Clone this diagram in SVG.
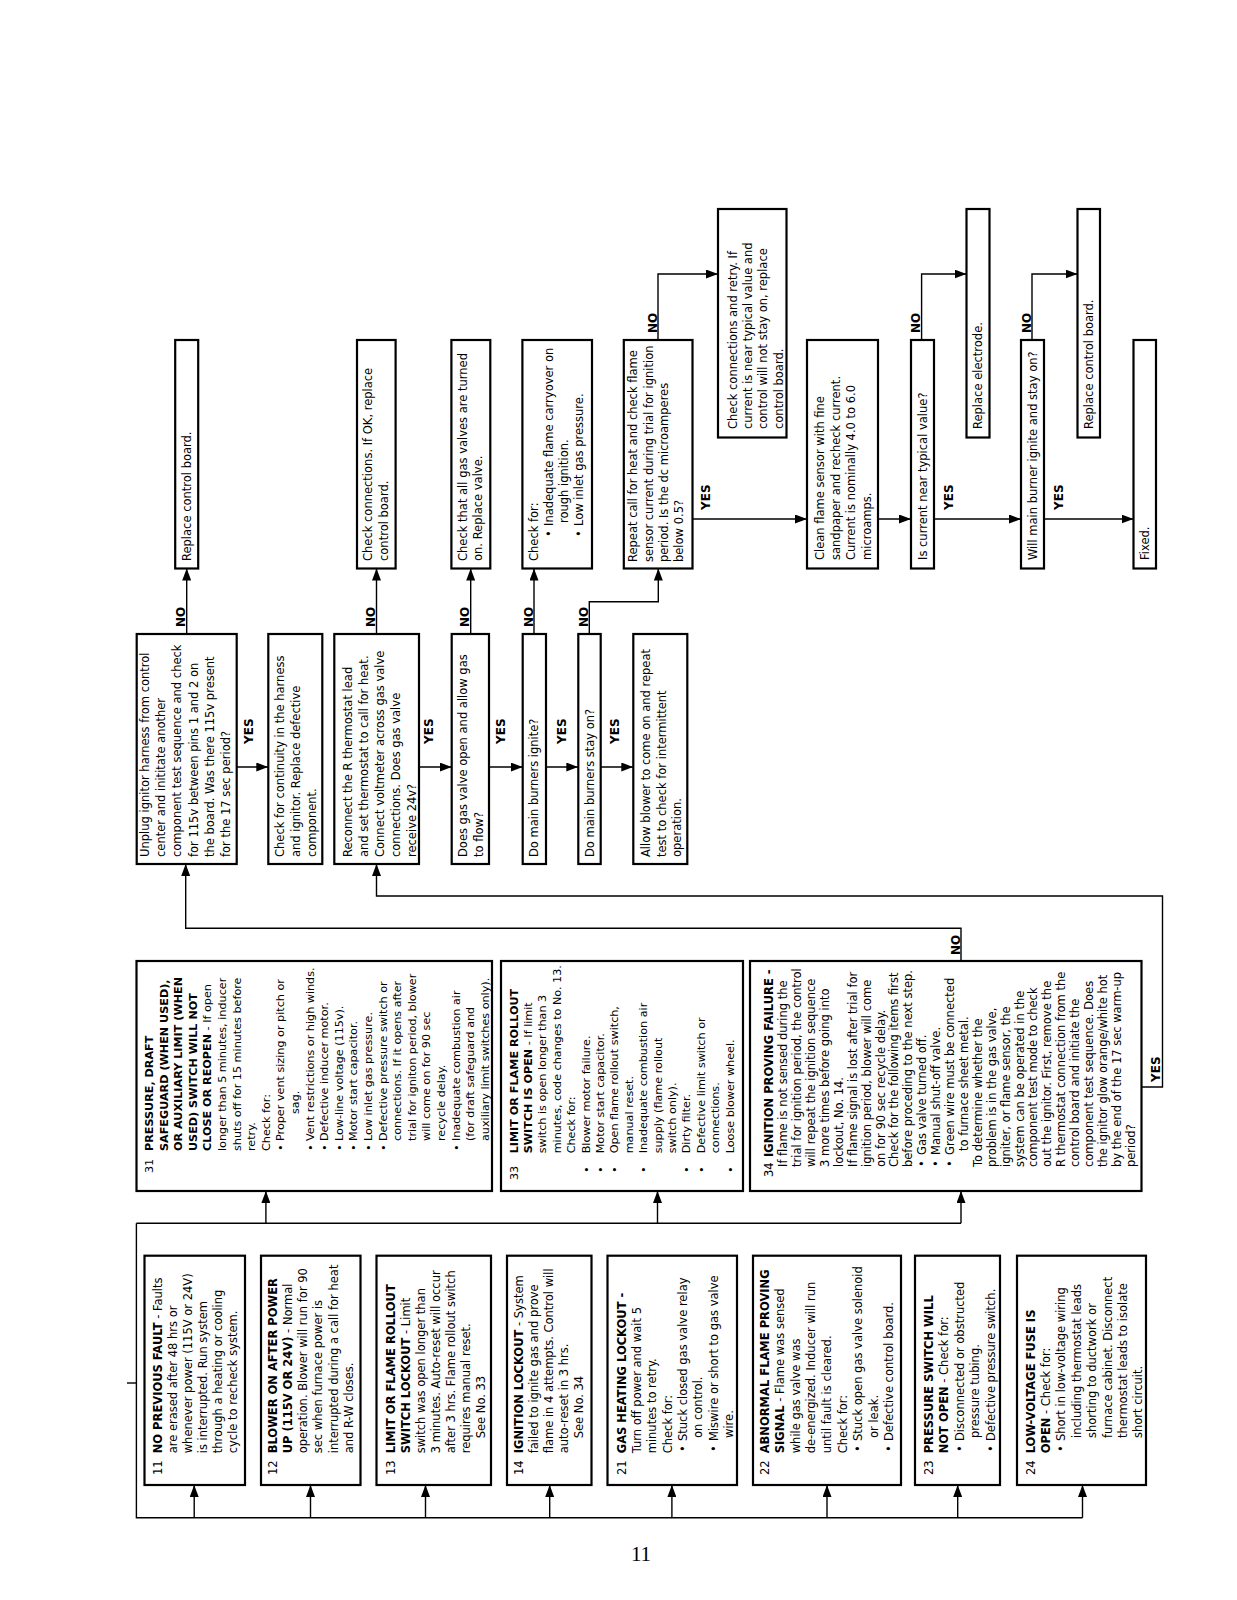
<svg xmlns="http://www.w3.org/2000/svg" width="1237" height="1600" viewBox="0 0 1237 1600">
<defs>
<style>
.bx{fill:#fff;stroke:#000;stroke-width:2.2}
.t{font-family:"DejaVu Sans","Liberation Sans",sans-serif;font-size:11.5px;fill:#000}
.s{font-size:11.2px}
.b{font-weight:bold}
.lbl{font-family:"DejaVu Sans","Liberation Sans",sans-serif;font-size:12px;font-weight:bold;fill:#000}
.c{fill:none;stroke:#000;stroke-width:1.4}
</style>
<marker id="ah" viewBox="0 0 12 9" refX="12" refY="4.5" markerWidth="12" markerHeight="9" markerUnits="userSpaceOnUse" orient="auto">
<path d="M0,0 L12,4.5 L0,9 z" fill="#000"/>
</marker>
</defs>
<rect width="1237" height="1600" fill="#fff"/>
<g id="page" transform="translate(0,1600) rotate(-90)">

<g id="connectors">
<path class="c" d="M376.7,136.4 L82.3,136.4 L82.3,1082.5"/>
<path class="c" d="M376.7,136.4 L376.7,961"/>
<path class="c" d="M217,127 L217,136.4"/>
<path class="c" marker-end="url(#ah)" d="M82.3,194.2 L115,194.2"/>
<path class="c" marker-end="url(#ah)" d="M82.3,310.5 L115,310.5"/>
<path class="c" marker-end="url(#ah)" d="M82.3,425.5 L115,425.5"/>
<path class="c" marker-end="url(#ah)" d="M82.3,549.7 L115,549.7"/>
<path class="c" marker-end="url(#ah)" d="M82.3,671.9 L115,671.9"/>
<path class="c" marker-end="url(#ah)" d="M82.3,827 L115,827"/>
<path class="c" marker-end="url(#ah)" d="M82.3,957.7 L115,957.7"/>
<path class="c" marker-end="url(#ah)" d="M82.3,1082.5 L115,1082.5"/>
<path class="c" marker-end="url(#ah)" d="M376.7,265.9 L409,265.9"/>
<path class="c" marker-end="url(#ah)" d="M376.7,657.5 L409,657.5"/>
<path class="c" marker-end="url(#ah)" d="M376.7,961 L409,961"/>
<path class="c" marker-end="url(#ah)" d="M639,961 L671.7,961 L671.7,185.7 L736,185.7"/>
<path class="c" marker-end="url(#ah)" d="M513,1141.5 L513,1162.5 L704,1162.5 L704,376.5 L736,376.5"/>
<path class="c" marker-end="url(#ah)" d="M833,236.7 L833,268.3"/>
<path class="c" marker-end="url(#ah)" d="M833,419 L833,451.7"/>
<path class="c" marker-end="url(#ah)" d="M833,489 L833,522.7"/>
<path class="c" marker-end="url(#ah)" d="M833,546 L833,578.3"/>
<path class="c" marker-end="url(#ah)" d="M833,600.7 L833,633.3"/>
<path class="c" marker-end="url(#ah)" d="M966,186.7 L1031.5,186.7"/>
<path class="c" marker-end="url(#ah)" d="M966,376.5 L1031.5,376.5"/>
<path class="c" marker-end="url(#ah)" d="M966,470.7 L1031.5,470.7"/>
<path class="c" marker-end="url(#ah)" d="M966,534 L1031.5,534"/>
<path class="c" marker-end="url(#ah)" d="M966,589.3 L998.3,589.3 L998.3,658.3 L1031.5,658.3"/>
<path class="c" marker-end="url(#ah)" d="M1081,692.5 L1081,807"/>
<path class="c" marker-end="url(#ah)" d="M1081,878 L1081,911"/>
<path class="c" marker-end="url(#ah)" d="M1081,934 L1081,1021"/>
<path class="c" marker-end="url(#ah)" d="M1081,1044 L1081,1133.5"/>
<path class="c" marker-end="url(#ah)" d="M1260,658 L1326,658 L1326,718"/>
<path class="c" marker-end="url(#ah)" d="M1260,921.6 L1326,921.6 L1326,966.5"/>
<path class="c" marker-end="url(#ah)" d="M1260,1032 L1326,1032 L1326,1077.5"/>
<text class="lbl" x="645" y="959.5">NO</text>
<text class="lbl" x="518" y="1160">YES</text>
<text class="lbl" x="856" y="253">YES</text>
<text class="lbl" x="856" y="433">YES</text>
<text class="lbl" x="856" y="505">YES</text>
<text class="lbl" x="856" y="566">YES</text>
<text class="lbl" x="856" y="619">YES</text>
<text class="lbl" x="973" y="185">NO</text>
<text class="lbl" x="973" y="375">NO</text>
<text class="lbl" x="973" y="468.5">NO</text>
<text class="lbl" x="973" y="532.5">NO</text>
<text class="lbl" x="973" y="588">NO</text>
<text class="lbl" x="1267" y="656.5">NO</text>
<text class="lbl" x="1267" y="920">NO</text>
<text class="lbl" x="1267" y="1031">NO</text>
<text class="lbl" x="1090" y="710">YES</text>
<text class="lbl" x="1090" y="953">YES</text>
<text class="lbl" x="1090" y="1063">YES</text>
</g>

<g id="n11">
<rect class="bx" x="115" y="144.5" width="229.3" height="100.5"/>
<text class="t" x="125" y="161.7">11</text>
<text class="t" x="146.7" y="161.7"><tspan class="b">NO PREVIOUS FAULT</tspan> - Faults</text>
<text class="t" x="146.7" y="176.7">are erased after 48 hrs or</text>
<text class="t" x="146.7" y="191.7">whenever power (115V or 24V)</text>
<text class="t" x="146.7" y="206.7">is interrupted. Run system</text>
<text class="t" x="146.7" y="221.7">through a heating or cooling</text>
<text class="t" x="146.7" y="236.7">cycle to recheck system.</text>
</g>

<g id="n12">
<rect class="bx" x="115" y="261" width="229.3" height="99.5"/>
<text class="t" x="125" y="276.7">12</text>
<text class="t b" x="146.7" y="276.7">BLOWER ON AFTER POWER</text>
<text class="t" x="146.7" y="291.9"><tspan class="b">UP (115V OR 24V)</tspan> - Normal</text>
<text class="t" x="146.7" y="307.1">operation.  Blower will run for 90</text>
<text class="t" x="146.7" y="322.3">sec when furnace power is</text>
<text class="t" x="146.7" y="337.5">interrupted during a call for heat</text>
<text class="t" x="146.7" y="352.7">and R-W closes.</text>
</g>

<g id="n13">
<rect class="bx" x="115" y="376.5" width="229.3" height="114.5"/>
<text class="t" x="125" y="395">13</text>
<text class="t b" x="146.7" y="395">LIMIT OR FLAME ROLLOUT</text>
<text class="t" x="146.7" y="410"><tspan class="b">SWITCH LOCKOUT</tspan> - Limit</text>
<text class="t" x="146.7" y="425">switch was open longer than</text>
<text class="t" x="146.7" y="440">3 minutes. Auto-reset will occur</text>
<text class="t" x="146.7" y="455">after 3 hrs. Flame rollout switch</text>
<text class="t" x="146.7" y="470">requires manual reset.</text>
<text class="t" x="161.7" y="485">See No. 33</text>
</g>

<g id="n14">
<rect class="bx" x="115" y="507" width="229.3" height="84.5"/>
<text class="t" x="125" y="523.3">14</text>
<text class="t" x="146.7" y="523.3"><tspan class="b">IGNITION LOCKOUT</tspan> - System</text>
<text class="t" x="146.7" y="538.3">failed to ignite gas and prove</text>
<text class="t" x="146.7" y="553.3">flame in 4 attempts. Control will</text>
<text class="t" x="146.7" y="568.3">auto-reset in 3 hrs.</text>
<text class="t" x="161.7" y="583.3">See No. 34</text>
</g>

<g id="n21">
<rect class="bx" x="115" y="607.5" width="229.3" height="129.5"/>
<text class="t" x="125" y="625.7">21</text>
<text class="t b" x="146.7" y="625.7">GAS HEATING LOCKOUT -</text>
<text class="t" x="146.7" y="641">Turn off power and wait 5</text>
<text class="t" x="146.7" y="656.3">minutes to retry.</text>
<text class="t" x="146.7" y="671.6">Check for:</text>
<text class="t" x="148" y="686.9">•</text>
<text class="t" x="159" y="686.9">Stuck closed gas valve relay</text>
<text class="t" x="162" y="702.2">on control.</text>
<text class="t" x="148" y="717.5">•</text>
<text class="t" x="159" y="717.5">Miswire or short to gas valve</text>
<text class="t" x="162" y="732.8">wire.</text>
</g>

<g id="n22">
<rect class="bx" x="115" y="753" width="229.3" height="148"/>
<text class="t" x="125" y="768.6">22</text>
<text class="t b" x="146.7" y="768.6">ABNORMAL FLAME PROVING</text>
<text class="t" x="146.7" y="784.2"><tspan class="b">SIGNAL</tspan> - Flame was sensed</text>
<text class="t" x="146.7" y="799.8">while gas valve was</text>
<text class="t" x="146.7" y="815.4">de-energized. Inducer will run</text>
<text class="t" x="146.7" y="831">until fault is cleared.</text>
<text class="t" x="146.7" y="846.6">Check for:</text>
<text class="t" x="148" y="862.2">•</text>
<text class="t" x="159" y="862.2">Stuck open gas valve solenoid</text>
<text class="t" x="162" y="877.8">or leak.</text>
<text class="t" x="148" y="893.4">•</text>
<text class="t" x="159" y="893.4">Defective control board.</text>
</g>

<g id="n23">
<rect class="bx" x="115" y="915" width="229.3" height="85"/>
<text class="t" x="125" y="932.9">23</text>
<text class="t b" x="146.7" y="932.9">PRESSURE SWITCH WILL</text>
<text class="t" x="146.7" y="948.3"><tspan class="b">NOT OPEN</tspan> - Check for:</text>
<text class="t" x="148" y="963.7">•</text>
<text class="t" x="159" y="963.7">Disconnected or obstructed</text>
<text class="t" x="162" y="979.1">pressure tubing.</text>
<text class="t" x="148" y="994.5">•</text>
<text class="t" x="159" y="994.5">Defective pressure switch.</text>
</g>

<g id="n24">
<rect class="bx" x="115" y="1017" width="229.3" height="129"/>
<text class="t" x="125" y="1034.6">24</text>
<text class="t b" x="146.7" y="1034.6">LOW-VOLTAGE FUSE IS</text>
<text class="t" x="146.7" y="1050"><tspan class="b">OPEN</tspan> - Check for:</text>
<text class="t" x="148" y="1065.4">•</text>
<text class="t" x="159" y="1065.4">Short in low-voltage wiring</text>
<text class="t" x="162" y="1080.8">including thermostat leads</text>
<text class="t" x="162" y="1096.2">shorting to ductwork or</text>
<text class="t" x="162" y="1111.6">furnace cabinet. Disconnect</text>
<text class="t" x="162" y="1127">thermostat leads to isolate</text>
<text class="t" x="162" y="1142.4">short circuit.</text>
</g>

<g id="n31">
<rect class="bx" x="409" y="136.5" width="230" height="355.5"/>
<text class="t s" x="427" y="153">31</text>
<text class="t s b" x="449" y="153">PRESSURE, DRAFT</text>
<text class="t s b" x="449" y="167.6">SAFEGUARD (WHEN USED),</text>
<text class="t s b" x="449" y="182.2">OR AUXILIARY LIMIT (WHEN</text>
<text class="t s b" x="449" y="196.8">USED) SWITCH WILL NOT</text>
<text class="t s" x="449" y="211.4"><tspan class="b">CLOSE OR REOPEN</tspan> - If open</text>
<text class="t s" x="449" y="226">longer than 5 minutes, inducer</text>
<text class="t s" x="449" y="240.6">shuts off for 15 minutes before</text>
<text class="t s" x="449" y="255.2">retry.</text>
<text class="t s" x="449" y="269.8">Check for:</text>
<text class="t s" x="449" y="284.4">•</text>
<text class="t s" x="459" y="284.4">Proper vent sizing or pitch or</text>
<text class="t s" x="486" y="299">sag.</text>
<text class="t s" x="449" y="313.6">•</text>
<text class="t s" x="459" y="313.6">Vent restrictions or high winds.</text>
<text class="t s" x="449" y="328.2">•</text>
<text class="t s" x="459" y="328.2">Defective inducer motor.</text>
<text class="t s" x="449" y="342.8">•</text>
<text class="t s" x="459" y="342.8">Low-line voltage (115v).</text>
<text class="t s" x="449" y="357.4">•</text>
<text class="t s" x="459" y="357.4">Motor start capacitor.</text>
<text class="t s" x="449" y="372">•</text>
<text class="t s" x="459" y="372">Low inlet gas pressure.</text>
<text class="t s" x="449" y="386.6">•</text>
<text class="t s" x="459" y="386.6">Defective pressure switch or</text>
<text class="t s" x="459" y="401.2">connections. If it opens after</text>
<text class="t s" x="459" y="415.8">trial for igniton period, blower</text>
<text class="t s" x="459" y="430.4">will come on for 90 sec</text>
<text class="t s" x="459" y="445">recycle delay.</text>
<text class="t s" x="449" y="459.6">•</text>
<text class="t s" x="459" y="459.6">Inadequate combustion air</text>
<text class="t s" x="459" y="474.2">(for draft safeguard and</text>
<text class="t s" x="459" y="488.8">auxiliary limit switches only).</text>
</g>

<g id="n33">
<rect class="bx" x="409" y="501" width="230" height="242"/>
<text class="t s" x="420" y="517.5">33</text>
<text class="t s b" x="446.7" y="517.5">LIMIT OR FLAME ROLLOUT</text>
<text class="t s" x="446.7" y="531.9"><tspan class="b">SWITCH IS OPEN</tspan> - If  limit</text>
<text class="t s" x="446.7" y="546.3">switch is open longer than 3</text>
<text class="t s" x="446.7" y="560.7">minutes, code changes to No. 13.</text>
<text class="t s" x="446.7" y="575.1">Check for:</text>
<text class="t s" x="427" y="589.5">•</text>
<text class="t s" x="446.7" y="589.5">Blower motor failure.</text>
<text class="t s" x="427" y="603.9">•</text>
<text class="t s" x="446.7" y="603.9">Motor start capacitor.</text>
<text class="t s" x="427" y="618.3">•</text>
<text class="t s" x="446.7" y="618.3">Open flame rollout switch,</text>
<text class="t s" x="446.7" y="632.7">manual reset.</text>
<text class="t s" x="427" y="647.1">•</text>
<text class="t s" x="446.7" y="647.1">Inadequate combustion air</text>
<text class="t s" x="446.7" y="661.5">supply (flame rollout</text>
<text class="t s" x="446.7" y="675.9">switch only).</text>
<text class="t s" x="427" y="690.3">•</text>
<text class="t s" x="446.7" y="690.3">Dirty filter.</text>
<text class="t s" x="427" y="704.7">•</text>
<text class="t s" x="446.7" y="704.7">Defective limit switch or</text>
<text class="t s" x="446.7" y="719.1">connections.</text>
<text class="t s" x="427" y="733.5">•</text>
<text class="t s" x="446.7" y="733.5">Loose blower wheel.</text>
</g>

<g id="n34">
<rect class="bx" x="409" y="750" width="230" height="391.5"/>
<text class="t" x="423" y="773.3">34</text>
<text class="t b" x="443" y="773.3">IGNITION PROVING FAILURE -</text>
<text class="t" x="433" y="787.2">If flame is not sensed during the</text>
<text class="t" x="433" y="801.1">trial for ignition period, the control</text>
<text class="t" x="433" y="815">will repeat the ignition sequence</text>
<text class="t" x="433" y="828.9">3 more times before going into</text>
<text class="t" x="433" y="842.8">lockout, No. 14.</text>
<text class="t" x="433" y="856.7">If flame signal is lost after trial for</text>
<text class="t" x="433" y="870.6">ignition period, blower will come</text>
<text class="t" x="433" y="884.5">on for 90 sec recycle delay.</text>
<text class="t" x="433" y="898.4">Check for the following items first</text>
<text class="t" x="433" y="912.3">before proceding to the next step.</text>
<text class="t" x="433" y="926.2">•</text>
<text class="t" x="445" y="926.2">Gas valve turned off.</text>
<text class="t" x="433" y="940.1">•</text>
<text class="t" x="445" y="940.1">Manual shut-off valve.</text>
<text class="t" x="433" y="954">•</text>
<text class="t" x="445" y="954">Green wire must be connected</text>
<text class="t" x="449" y="967.9">to furnace sheet metal.</text>
<text class="t" x="433" y="981.8">To determine whether the</text>
<text class="t" x="433" y="995.7">problem is in the gas valve,</text>
<text class="t" x="433" y="1009.6">igniter, or flame sensor, the</text>
<text class="t" x="433" y="1023.5">system can be operated in the</text>
<text class="t" x="433" y="1037.4">component test mode to check</text>
<text class="t" x="433" y="1051.3">out the ignitor. First, remove the</text>
<text class="t" x="433" y="1065.2">R thermostat connection from the</text>
<text class="t" x="433" y="1079.1">control board and initiate the</text>
<text class="t" x="433" y="1093">component test sequence.  Does</text>
<text class="t" x="433" y="1106.9">the ignitor glow orange/white hot</text>
<text class="t" x="433" y="1120.8">by the end of the 17 sec warm-up</text>
<text class="t" x="433" y="1134.7">period?</text>
</g>

<g id="unplug">
<rect class="bx" x="736" y="136.7" width="230" height="100"/>
<text class="t" x="743" y="149">Unplug ignitor harness from control</text>
<text class="t" x="743" y="165.2">center and inititate another</text>
<text class="t" x="743" y="181.4">component test sequence and check</text>
<text class="t" x="743" y="197.6">for 115v between pins 1 and 2 on</text>
<text class="t" x="743" y="213.8">the board.  Was there 115v present</text>
<text class="t" x="743" y="230">for the 17 sec period?</text>
</g>

<g id="continuity">
<rect class="bx" x="736" y="268.3" width="230" height="54"/>
<text class="t" x="743" y="284">Check for continuity in the harness</text>
<text class="t" x="743" y="300">and ignitor. Replace defective</text>
<text class="t" x="743" y="316">component.</text>
</g>

<g id="reconnect">
<rect class="bx" x="736" y="334.3" width="230" height="84.7"/>
<text class="t" x="743" y="351.7">Reconnect the R  thermostat lead</text>
<text class="t" x="743" y="367.9">and set thermostat to call for heat.</text>
<text class="t" x="743" y="384.1">Connect voltmeter across gas valve</text>
<text class="t" x="743" y="400.3">connections.  Does gas valve</text>
<text class="t" x="743" y="416.3">receive 24v?</text>
</g>

<g id="gasflow">
<rect class="bx" x="736" y="451.7" width="230" height="37.3"/>
<text class="t" x="743" y="467.3">Does gas valve open and allow gas</text>
<text class="t" x="743" y="483">to flow?</text>
</g>

<g id="ignite">
<rect class="bx" x="736" y="522.7" width="230" height="23.3"/>
<text class="t" x="743" y="538.3">Do main burners ignite?</text>
</g>

<g id="stayon">
<rect class="bx" x="736" y="578.3" width="230" height="22.4"/>
<text class="t" x="743" y="593.6">Do main burners stay on?</text>
</g>

<g id="allowblower">
<rect class="bx" x="736" y="633.3" width="230" height="54"/>
<text class="t" x="743" y="650">Allow blower to come on and repeat</text>
<text class="t" x="743" y="665.7">test to check for intermittent</text>
<text class="t" x="743" y="681.3">operation.</text>
</g>

<g id="replaceboard1">
<rect class="bx" x="1031.5" y="175.2" width="228.5" height="23"/>
<text class="t" x="1039" y="190.8">Replace control board.</text>
</g>

<g id="checkconn">
<rect class="bx" x="1031.5" y="357" width="228.5" height="38.6"/>
<text class="t" x="1039" y="372">Check connections. If OK, replace</text>
<text class="t" x="1039" y="387.5">control board.</text>
</g>

<g id="checkvalves">
<rect class="bx" x="1031.5" y="451.4" width="228.5" height="38.9"/>
<text class="t" x="1039" y="466.6">Check that all gas valves are turned</text>
<text class="t" x="1039" y="482">on. Replace valve.</text>
</g>

<g id="checkfor">
<rect class="bx" x="1031.5" y="522.4" width="228.5" height="69.6"/>
<text class="t" x="1039" y="537.6">Check for:</text>
<text class="t" x="1063" y="552.8">•</text>
<text class="t" x="1074" y="552.8">Inadequate flame carryover on</text>
<text class="t" x="1077" y="568">rough ignition.</text>
<text class="t" x="1063" y="583.2">•</text>
<text class="t" x="1074" y="583.2">Low inlet gas pressure.</text>
</g>

<g id="repeatcall">
<rect class="bx" x="1031.5" y="623.8" width="228.5" height="68.7"/>
<text class="t" x="1038" y="637.3">Repeat call for heat and check flame</text>
<text class="t" x="1038" y="652.5">sensor current during trial for ignition</text>
<text class="t" x="1038" y="667.7">period.  Is the dc microamperes</text>
<text class="t" x="1038" y="683">below 0.5?</text>
</g>

<g id="retry">
<rect class="bx" x="1162.5" y="718" width="228.5" height="68.5"/>
<text class="t" x="1171" y="736.6">Check connections and retry. If</text>
<text class="t" x="1171" y="752">current is near typical value and</text>
<text class="t" x="1171" y="767.4">control will not stay on, replace</text>
<text class="t" x="1171" y="782.8">control board.</text>
</g>

<g id="clean">
<rect class="bx" x="1031.5" y="807" width="228.5" height="71"/>
<text class="t" x="1040" y="824.4">Clean flame sensor with fine</text>
<text class="t" x="1040" y="840">sandpaper and recheck current.</text>
<text class="t" x="1040" y="855.4">Current is nominally 4.0 to 6.0</text>
<text class="t" x="1040" y="871">microamps.</text>
</g>

<g id="iscurrent">
<rect class="bx" x="1031.5" y="911" width="228.5" height="23"/>
<text class="t" x="1040" y="927">Is current near typical value?</text>
</g>

<g id="electrode">
<rect class="bx" x="1162.5" y="966.5" width="228.5" height="23"/>
<text class="t" x="1171" y="982.3">Replace electrode.</text>
</g>

<g id="willmain">
<rect class="bx" x="1031.5" y="1021" width="228.5" height="23"/>
<text class="t" x="1040" y="1036.8">Will main burner ignite and stay on?</text>
</g>

<g id="replaceboard2">
<rect class="bx" x="1162.5" y="1077.5" width="228.5" height="22.5"/>
<text class="t" x="1171" y="1093">Replace control board.</text>
</g>

<g id="fixed">
<rect class="bx" x="1031.5" y="1133.5" width="228.5" height="22.5"/>
<text class="t" x="1040" y="1149">Fixed.</text>
</g>

</g>
<text x="641" y="1561" text-anchor="middle" style="font-family:'Liberation Serif',serif;font-size:21px">11</text>
</svg>
